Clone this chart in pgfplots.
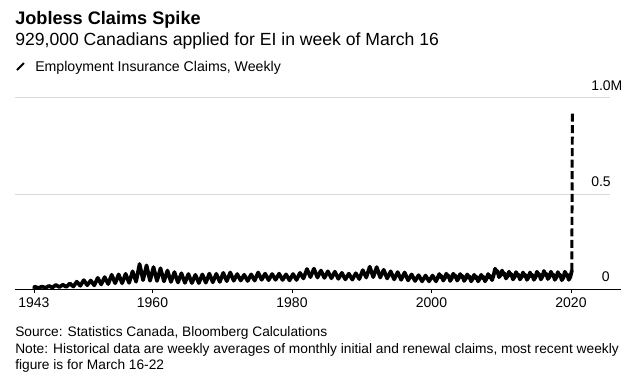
\documentclass[border=0pt]{standalone}
\usepackage{pgfplots}
\pgfplotsset{compat=1.18}
\usepackage{fontspec}
\setmainfont{Liberation Sans}
\begin{document}
\begin{tikzpicture}
\begin{scope}[x=0.75pt,y=0.75pt]
\path[use as bounding box] (0,0) rectangle (640,376);
% titles
\node[anchor=base west, inner sep=0, font=\bfseries\fontsize{13.6}{16}\selectfont] at (15,351) {Jobless Claims Spike};
\node[anchor=base west, inner sep=0, font=\fontsize{13.2}{16}\selectfont] at (15,330) {929,000 Canadians applied for EI in week of March 16};
\draw[line width=1.5pt] (17,306) -- (24,313);
\node[anchor=base west, inner sep=0, font=\fontsize{10.6}{13}\selectfont] at (35,305) {Employment Insurance Claims, Weekly};
% grid lines
\draw[black!15, line width=0.75pt] (15,279) -- (610,279);
\draw[black!15, line width=0.75pt] (15,182) -- (610,182);
\node[anchor=base east, inner sep=0, font=\fontsize{10.5}{12}\selectfont] at (611,286) {1.0\rlap{M}};
\node[anchor=base east, inner sep=0, font=\fontsize{10.5}{12}\selectfont] at (611,190) {0.5};
\node[anchor=base east, inner sep=0, font=\fontsize{10.5}{12}\selectfont] at (610,95) {0};
\node[anchor=base west, inner sep=0, font=\fontsize{10.3}{12}\selectfont] at (15,40) {Source: Statistics Canada, Bloomberg Calculations};
\node[anchor=base west, inner sep=0, font=\fontsize{10.3}{12}\selectfont] at (15,23) {Note: Historical data are weekly averages of monthly initial and renewal claims, most recent weekly};
\node[anchor=base west, inner sep=0, font=\fontsize{10.3}{12}\selectfont] at (15,7) {figure is for March 16-22};
\end{scope}
\begin{axis}[
  at={(11.25pt,65.25pt)}, anchor=south west,
  scale only axis, width=454.5pt, height=144pt,
  xmin=1940.29, xmax=2027.17, ymin=0, ymax=1000,
  clip=false,
  axis x line*=bottom, axis y line=none,
  axis line style={black, line width=0.75pt},
  xtick={1943,1960,1980,2000,2020},
  xticklabels={1943,1960,1980,2000,2020},
  ytick=\empty,
  tick align=outside, major tick length=3pt,
  tick style={black, line width=0.6pt},
  xticklabel style={font=\fontsize{10.5}{12}\selectfont, anchor=base, yshift=-11pt},
]
\addplot[black, line width=2.8pt, line join=round, line cap=round] coordinates {
(1943.0,8) (1943.15,12) (1943.65,5) (1944.15,13) (1944.65,6) (1945.15,16) (1945.65,8) (1946.15,21) (1946.65,10) (1947.15,22) (1947.65,11) (1948.15,29) (1948.65,13) (1949.15,38) (1949.65,17) (1950.15,46) (1950.65,20) (1951.15,44) (1951.65,19) (1952.15,58) (1952.65,24) (1953.15,62) (1953.65,26) (1954.15,74) (1954.65,30) (1955.15,76) (1955.65,30) (1956.15,79) (1956.65,32) (1957.15,92) (1957.65,38) (1958.15,130) (1958.65,46) (1959.15,123) (1959.65,43) (1960.15,114) (1960.65,42) (1961.15,108) (1961.65,40) (1962.15,96) (1962.65,37) (1963.15,88) (1963.65,34) (1964.15,82) (1964.65,32) (1965.15,78) (1965.65,31) (1966.15,74) (1966.65,31) (1967.15,76) (1967.65,33) (1968.15,80) (1968.65,35) (1969.15,79) (1969.65,37) (1970.15,84) (1970.65,41) (1971.15,86) (1971.65,43) (1972.15,78) (1972.65,44) (1973.15,74) (1973.65,42) (1974.15,76) (1974.65,44) (1975.15,86) (1975.65,48) (1976.15,80) (1976.65,46) (1977.15,78) (1977.65,48) (1978.15,80) (1978.65,47) (1979.15,76) (1979.65,45) (1980.15,78) (1980.65,47) (1981.15,84) (1981.65,55) (1982.15,104) (1982.65,62) (1983.15,106) (1983.65,60) (1984.15,96) (1984.65,58) (1985.15,92) (1985.65,56) (1986.15,90) (1986.65,53) (1987.15,84) (1987.65,50) (1988.15,80) (1988.65,49) (1989.15,82) (1989.65,52) (1990.15,98) (1990.65,60) (1991.15,116) (1991.65,62) (1992.15,114) (1992.65,60) (1993.15,100) (1993.65,55) (1994.15,92) (1994.65,50) (1995.15,88) (1995.65,48) (1996.15,86) (1996.65,45) (1997.15,76) (1997.65,42) (1998.15,72) (1998.65,40) (1999.15,70) (1999.65,40) (2000.15,70) (2000.65,40)
(2001.12,78) (2001.35,60) (2001.45,68) (2001.68,44) (2001.9,56)
(2002.12,80) (2002.35,62) (2002.45,70) (2002.68,42) (2002.9,55)
(2003.12,80) (2003.35,62) (2003.45,70) (2003.68,44) (2003.9,56)
(2004.12,78) (2004.35,60) (2004.45,68) (2004.68,42) (2004.9,54)
(2005.12,76) (2005.35,58) (2005.45,66) (2005.68,40) (2005.9,52)
(2006.12,74) (2006.35,56) (2006.45,64) (2006.68,40) (2006.9,52)
(2007.12,74) (2007.35,56) (2007.45,64) (2007.68,40) (2007.9,54)
(2008.12,78) (2008.35,60) (2008.45,68) (2008.68,46) (2008.9,70)
(2009.12,106) (2009.35,86) (2009.45,94) (2009.68,62) (2009.9,72)
(2010.12,96) (2010.35,74) (2010.45,82) (2010.68,55) (2010.9,66)
(2011.12,90) (2011.35,70) (2011.45,78) (2011.68,50) (2011.9,62)
(2012.12,88) (2012.35,68) (2012.45,76) (2012.68,50) (2012.9,62)
(2013.12,86) (2013.35,66) (2013.45,74) (2013.68,48) (2013.9,60)
(2014.12,86) (2014.35,66) (2014.45,74) (2014.68,48) (2014.9,60)
(2015.12,90) (2015.35,70) (2015.45,78) (2015.68,50) (2015.9,64)
(2016.12,94) (2016.35,72) (2016.45,80) (2016.68,52) (2016.9,62)
(2017.12,90) (2017.35,70) (2017.45,76) (2017.68,48) (2017.9,60)
(2018.12,88) (2018.35,68) (2018.45,74) (2018.68,46) (2018.9,58)
(2019.12,90) (2019.35,70) (2019.45,76) (2019.68,48) (2019.9,62)
(2020.12,95)
};
\addplot[black, line width=2.2pt, dash pattern=on 6pt off 2.6pt] coordinates {(2020.12,95) (2020.2,929)};
\end{axis}
\end{tikzpicture}
\end{document}
